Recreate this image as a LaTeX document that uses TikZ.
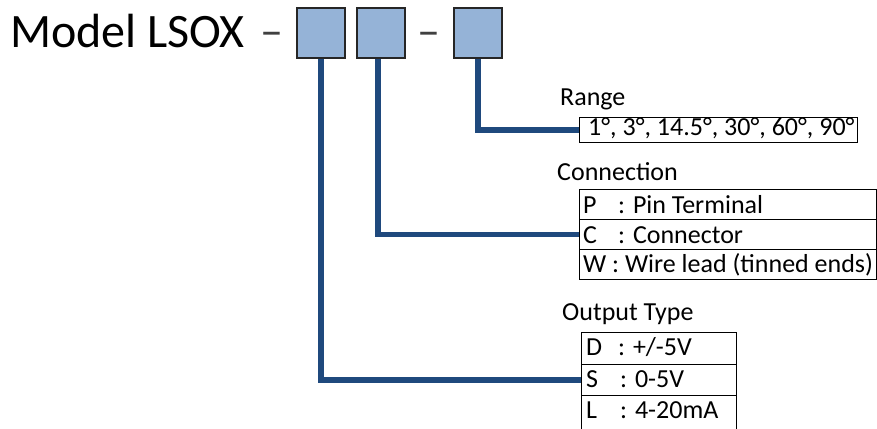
\documentclass[tikz,border=0pt]{standalone}
\usepackage{fontspec}
\setmainfont{Carlito}
\usetikzlibrary{backgrounds}
\definecolor{boxfill}{RGB}{149,179,215}
\definecolor{wire}{RGB}{31,73,125}
\begin{document}
\begin{tikzpicture}[x=1pt,y=-1pt,
  sq/.style={draw=black!85, line width=1.6pt, fill=boxfill, minimum width=48pt, minimum height=50pt, inner sep=0pt},
  cell/.style={draw=black, line width=1.2pt, anchor=north west, inner sep=0pt},
  txt/.style={anchor=base west, inner sep=0pt, font=\fontsize{26}{30}\selectfont},
  big/.style={anchor=base west, inner sep=0pt, font=\fontsize{48}{58}\selectfont},
  dashtxt/.style={anchor=base, inner sep=0pt, text=black!75, font=\fontsize{46}{50}\selectfont},
  wirel/.style={draw=wire, line width=5.5pt}]
\useasboundingbox (0,0) rectangle (877,428);
\clip (0,0) rectangle (877,428);
% title
\node[big] (title) at (10,48) {Model LSOX};
\node[dashtxt] (d1) at (272,46) {–};
\node[dashtxt] (d2) at (429,46) {–};
\node[sq] (b1) at (321,33) {};
\node[sq] (b2) at (381,33) {};
\node[sq] (b3) at (478,33) {};
% range
\node[txt] (lrange) at (560,105) {Range};
\node[cell, minimum width=278pt, minimum height=25pt] (rng) at (579,117) {};
\node[txt] (rngt) at (588,135) {1°, 3°, 14.5°, 30°, 60°, 90°};
% connection
\node[txt] (lconn) at (557,180) {Connection};
\node[cell, minimum width=297pt, minimum height=30pt] (c1) at (579,189) {};
\node[cell, minimum width=297pt, minimum height=30pt] (c2) at (579,219) {};
\node[cell, minimum width=297pt, minimum height=30pt] (c3) at (579,249) {};
\node[txt] (c1a) at (583,213) {P};
\node[txt] (c1b) at (618,213) {: Pin Terminal};
\node[txt] (c2a) at (583,243) {C};
\node[txt] (c2b) at (618,243) {: Connector};
\node[txt] (c3a) at (583,272) {W : Wire lead (tinned ends)};
% output type
\node[txt] (lout) at (562,320) {Output Type};
\node[cell, minimum width=155pt, minimum height=31.5pt] (o1) at (581,332) {};
\node[cell, minimum width=155pt, minimum height=31.5pt] (o2) at (581,363.5) {};
\node[cell, minimum width=155pt, minimum height=40pt] (o3) at (581,395) {};
\node[txt] (o1a) at (586,355) {D};
\node[txt] (o1b) at (618,355) {: +/-5V};
\node[txt] (o2a) at (586,387) {S};
\node[txt] (o2b) at (620,387) {: 0-5V};
\node[txt] (o3a) at (586,418) {L};
\node[txt] (o3b) at (620,418) {: 4-20mA};
% connectors
\begin{scope}[on background layer]
\draw[wirel] (b3.south) |- (rng.west);
\draw[wirel] ([xshift=-3pt]b2.south) |- (c2.west);
\draw[wirel] (b1.south) |- (o2.west);
\end{scope}
\end{tikzpicture}
\end{document}
